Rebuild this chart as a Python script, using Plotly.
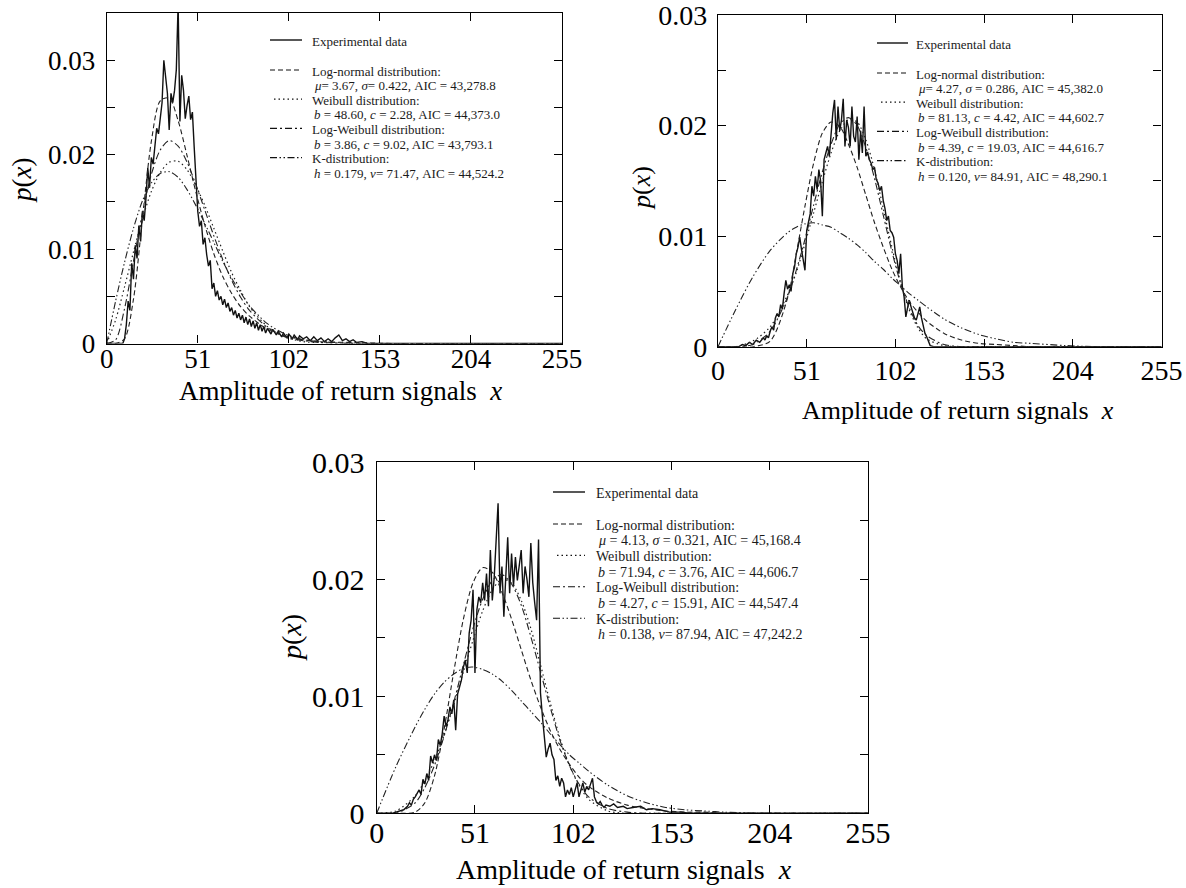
import plotly.graph_objects as go

W, H = 1186, 888
FONT = "Liberation Serif, Times New Roman, serif"

# ---------------- Panel 1 (top-left) ----------------
exp1_x = [0, 9, 10, 11, 12, 13, 14, 15, 16, 17, 18, 19, 20, 21, 22, 23, 24, 25, 26, 27, 28, 29, 30,
          31, 32, 33, 34, 35, 36, 37, 38, 39, 40, 41, 42, 43, 44, 45, 46, 47, 48, 49, 50, 51, 52,
          53, 54, 55, 56, 57, 58, 59, 60, 61, 62, 63, 64, 65, 66, 67, 68, 69, 70, 71, 72, 73, 74,
          75, 76, 77, 78, 79, 80, 81, 82, 83, 84, 85, 86, 87, 88, 89, 90, 92, 93, 95, 96, 98, 99,
          101, 102, 104, 105, 107, 108, 110, 112, 114, 116, 118, 120, 122, 124, 126, 128, 130,
          132, 134, 136, 138, 140, 143, 146, 255]
exp1_y = [0, 0, 0.0005, 0.0020, 0.0045, 0.0035, 0.0085, 0.0068, 0.0104, 0.0090, 0.0125, 0.0108,
          0.0140, 0.0130, 0.0154, 0.0186, 0.0165, 0.0197, 0.0190, 0.0211, 0.0228, 0.0222, 0.0240,
          0.0255, 0.0300, 0.0280, 0.0265, 0.0226, 0.0265, 0.0255, 0.0268, 0.0290, 0.0360, 0.0235,
          0.0284, 0.0268, 0.0238, 0.0252, 0.0262, 0.0237, 0.0245, 0.0208, 0.0170, 0.0140, 0.0124,
          0.0130, 0.0105, 0.0112, 0.0094, 0.0082, 0.0088, 0.0058, 0.0064, 0.0050, 0.0056, 0.0046,
          0.0050, 0.0041, 0.0047, 0.0038, 0.0043, 0.0034, 0.0038, 0.0030, 0.0035, 0.0027, 0.0032,
          0.0025, 0.0030, 0.0022, 0.0028, 0.0020, 0.0026, 0.0018, 0.0024, 0.0016, 0.0022, 0.0014,
          0.0020, 0.0013, 0.0018, 0.0011, 0.0016, 0.0010, 0.0015, 0.0009, 0.0013, 0.0007, 0.0011,
          0.0006, 0.0010, 0.0005, 0.0009, 0.0004, 0.0008, 0.0005, 0.0007, 0.0003, 0.0007, 0.0003,
          0.0006, 0.0002, 0.0005, 0.0002, 0.0006, 0.0009, 0.0003, 0.0005, 0.0002, 0.0004, 0.0001,
          0.0002, 0.0, 0.0]
fit1_x = [0, 5, 10, 15, 20, 25, 30, 35, 40, 45, 50, 55, 60, 65, 70, 75, 80, 90, 100, 110, 120,
          140, 160, 200, 255]
lognorm1 = [0, 0.0000, 0.0005, 0.0047, 0.0132, 0.0214, 0.0257, 0.0260, 0.0236, 0.0199, 0.0160,
            0.0125, 0.0095, 0.0071, 0.0053, 0.0039, 0.0029, 0.0015, 0.0008, 0.0004, 0.0002,
            0.0001, 0.0000, 0, 0]
weibull1 = [0, 0.0025, 0.0060, 0.0097, 0.0132, 0.0161, 0.0181, 0.0192, 0.0193, 0.0184, 0.0167,
            0.0146, 0.0122, 0.0098, 0.0075, 0.0056, 0.0039, 0.0018, 0.0007, 0.0002, 0.0001,
            0, 0, 0, 0]
logweib1 = [0, 0.0004, 0.0037, 0.0087, 0.0138, 0.0179, 0.0205, 0.0215, 0.0209, 0.0192, 0.0168,
            0.0141, 0.0114, 0.0089, 0.0067, 0.0049, 0.0035, 0.0017, 0.0007, 0.0003, 0.0001,
            0, 0, 0, 0]
kdist1 = [0, 0.0045, 0.0086, 0.0122, 0.0151, 0.0170, 0.0180, 0.0182, 0.0176, 0.0163, 0.0146,
          0.0127, 0.0107, 0.0087, 0.0069, 0.0054, 0.0040, 0.0021, 0.0010, 0.0004, 0.0002,
          0.0000, 0, 0, 0]
params1 = ["<i>μ</i>= 3.67, <i>σ</i>= 0.422, AIC = 43,278.8",
           "<i>b</i> = 48.60, <i>c</i> = 2.28, AIC = 44,373.0",
           "<i>b</i> = 3.86, <i>c</i> = 9.02, AIC = 43,793.1",
           "<i>h</i> = 0.179, <i>ν</i>= 71.47, AIC = 44,524.2"]

# ---------------- Panel 2 (top-right) ----------------
exp2_x = [0, 12, 14, 16, 18, 20, 22, 24, 26, 27, 28, 29, 30, 31, 32, 33, 34, 35, 36, 37, 38, 39,
          40, 41, 42, 43, 44, 45, 46, 47, 48, 49, 50, 51, 52, 53, 54, 55, 56, 57, 58, 59, 60, 61,
          62, 63, 64, 65, 66, 67, 68, 69, 70, 71, 72, 73, 74, 75, 76, 77, 78, 79, 80, 81, 82, 83,
          84, 85, 86, 87, 88, 89, 90, 91, 92, 93, 94, 95, 96, 97, 98, 99, 100, 101, 102, 103, 104,
          105, 106, 107, 108, 109, 110, 111, 112, 113, 114, 115, 116, 117, 118, 119, 120, 121, 122,
          124, 255]
exp2_y = [0, 0, 0.0002, 0.0001, 0.0004, 0.0002, 0.0006, 0.0004, 0.0008, 0.0006, 0.0010, 0.0008,
          0.0014, 0.0018, 0.0015, 0.0026, 0.0030, 0.0027, 0.0038, 0.0034, 0.0048, 0.0060, 0.0052,
          0.0056, 0.0050, 0.0066, 0.0072, 0.0084, 0.0090, 0.0099, 0.0088, 0.0078, 0.0069, 0.0105,
          0.0112, 0.0120, 0.0145, 0.0136, 0.0154, 0.0142, 0.0160, 0.0150, 0.0118, 0.0169, 0.0175,
          0.0181, 0.0172, 0.0193, 0.0211, 0.0223, 0.0187, 0.0217, 0.0195, 0.0205, 0.0224, 0.0181,
          0.0205, 0.0198, 0.0181, 0.0217, 0.0190, 0.0185, 0.0208, 0.0169, 0.0195, 0.0175, 0.0217,
          0.0172, 0.0176, 0.0169, 0.0166, 0.0160, 0.0162, 0.0151, 0.0148, 0.0141, 0.0145, 0.0132,
          0.0125, 0.0114, 0.0118, 0.0105, 0.0103, 0.0099, 0.0084, 0.0078, 0.0066, 0.0084, 0.0054,
          0.0045, 0.0027, 0.0035, 0.0042, 0.0036, 0.0030, 0.0026, 0.0024, 0.0030, 0.0036, 0.0026,
          0.0018, 0.0012, 0.0009, 0.0004, 0.0001, 0.0, 0.0]
fit2_x = [0, 10, 20, 30, 40, 45, 50, 55, 60, 65, 70, 75, 80, 85, 90, 95, 100, 105, 110, 115, 120,
          130, 140, 150, 160, 170, 180, 200, 220, 255]
lognorm2 = [0, 0, 0.0000, 0.0005, 0.0044, 0.0084, 0.0127, 0.0166, 0.0193, 0.0203, 0.0199, 0.0183,
            0.0162, 0.0137, 0.0112, 0.0090, 0.0070, 0.0054, 0.0041, 0.0031, 0.0023, 0.0012,
            0.0006, 0.0003, 0.0002, 0.0001, 0.0000, 0, 0, 0]
weibull2 = [0, 0.0000, 0.0005, 0.0018, 0.0047, 0.0067, 0.0093, 0.0121, 0.0149, 0.0175, 0.0195,
            0.0205, 0.0203, 0.0187, 0.0160, 0.0125, 0.0090, 0.0058, 0.0033, 0.0017, 0.0007,
            0.0001, 0, 0, 0, 0, 0, 0, 0, 0]
logweib2 = [0, 0, 0.0002, 0.0014, 0.0045, 0.0069, 0.0097, 0.0128, 0.0158, 0.0183, 0.0201, 0.0207,
            0.0200, 0.0180, 0.0152, 0.0119, 0.0086, 0.0057, 0.0035, 0.0019, 0.0010, 0.0002,
            0.0000, 0, 0, 0, 0, 0, 0, 0]
kdist2 = [0, 0.0033, 0.0063, 0.0087, 0.0103, 0.0108, 0.0111, 0.0112, 0.0110, 0.0108, 0.0103,
          0.0098, 0.0092, 0.0085, 0.0077, 0.0070, 0.0062, 0.0055, 0.0048, 0.0042, 0.0036, 0.0025,
          0.0017, 0.0011, 0.0007, 0.0004, 0.0003, 0.0001, 0.0000, 0]
params2 = ["<i>μ</i>= 4.27, <i>σ</i> = 0.286, AIC = 45,382.0",
           "<i>b</i> = 81.13, <i>c</i> = 4.42, AIC = 44,602.7",
           "<i>b</i> = 4.39, <i>c</i> = 19.03, AIC = 44,616.7",
           "<i>h</i> = 0.120, <i>ν</i>= 84.91, AIC = 48,290.1"]

# ---------------- Panel 3 (bottom) ----------------
exp3_x = [0, 8, 10, 12, 14, 16, 17, 18, 19, 20, 21, 22, 23, 24, 25, 26, 27, 28, 29, 30, 31, 32, 33,
          34, 35, 36, 37, 38, 39, 40, 41, 42, 43, 44, 45, 46, 47, 48, 49, 50, 51, 52, 53, 54, 55,
          56, 57, 58, 59, 60, 61, 62, 63, 64, 65, 66, 67, 68, 69, 70, 71, 72, 73, 74, 75, 76, 77,
          78, 79, 80, 81, 82, 83, 84, 85, 86, 87, 88, 89, 90, 91, 92, 93, 94, 95, 96, 97, 98, 99,
          100, 101, 102, 103, 104, 105, 106, 107, 108, 109, 110, 111, 112, 113, 114, 115, 116, 117,
          118, 119, 121, 123, 125, 128, 130, 133, 137, 140, 143, 147, 152, 158, 162, 255]
exp3_y = [0, 0, 0.0001, 0.0002, 0.0003, 0.0006, 0.0009, 0.0007, 0.0012, 0.0014, 0.0017, 0.0020,
          0.0016, 0.0029, 0.0025, 0.0034, 0.0028, 0.0049, 0.0043, 0.0050, 0.0045, 0.0063, 0.0058,
          0.0068, 0.0083, 0.0074, 0.0080, 0.0091, 0.0085, 0.0097, 0.0071, 0.0102, 0.0108, 0.0114,
          0.0125, 0.0131, 0.0120, 0.0154, 0.0165, 0.0191, 0.0120, 0.0174, 0.0185, 0.0180, 0.0197,
          0.0182, 0.0205, 0.0177, 0.0225, 0.0182, 0.0202, 0.0231, 0.0265, 0.0188, 0.0211, 0.0168,
          0.0200, 0.0236, 0.0188, 0.0222, 0.0194, 0.0219, 0.0199, 0.0210, 0.0225, 0.0188, 0.0211,
          0.0200, 0.0185, 0.0231, 0.0197, 0.0180, 0.0165, 0.0234, 0.0103, 0.0083, 0.0066, 0.0048,
          0.0055, 0.0060, 0.0050, 0.0046, 0.0028, 0.0032, 0.0023, 0.0030, 0.0026, 0.0014, 0.0020,
          0.0016, 0.0022, 0.0014, 0.0020, 0.0026, 0.0014, 0.0020, 0.0026, 0.0018, 0.0023, 0.0020,
          0.0025, 0.0030, 0.0014, 0.0010, 0.0008, 0.0010, 0.0007, 0.0005, 0.0007, 0.0006, 0.0008,
          0.0005, 0.0006, 0.0004, 0.0005, 0.0006, 0.0003, 0.0004, 0.0003, 0.0001, 0.0001, 0.0, 0.0]
fit3_x = [0, 10, 20, 25, 30, 35, 40, 45, 50, 55, 60, 65, 70, 75, 80, 85, 90, 95, 100, 105, 110,
          120, 130, 140, 150, 160, 170, 180, 200, 255]
lognorm3 = [0, 0.0000, 0.0001, 0.0009, 0.0032, 0.0072, 0.0121, 0.0166, 0.0197, 0.0210, 0.0206,
            0.0189, 0.0166, 0.0140, 0.0114, 0.0091, 0.0071, 0.0055, 0.0042, 0.0031, 0.0023,
            0.0013, 0.0007, 0.0004, 0.0002, 0.0001, 0.0001, 0.0000, 0, 0]
weibull3 = [0, 0.0002, 0.0015, 0.0028, 0.0045, 0.0067, 0.0093, 0.0121, 0.0148, 0.0173, 0.0191,
            0.0200, 0.0197, 0.0182, 0.0158, 0.0127, 0.0095, 0.0065, 0.0041, 0.0024, 0.0012,
            0.0002, 0.0000, 0, 0, 0, 0, 0, 0, 0]
logweib3 = [0, 0.0000, 0.0009, 0.0022, 0.0041, 0.0066, 0.0095, 0.0127, 0.0158, 0.0183, 0.0199,
            0.0204, 0.0196, 0.0178, 0.0151, 0.0121, 0.0091, 0.0063, 0.0041, 0.0025, 0.0014,
            0.0004, 0.0001, 0, 0, 0, 0, 0, 0, 0]
kdist3 = [0, 0.0040, 0.0074, 0.0089, 0.0102, 0.0112, 0.0119, 0.0124, 0.0125, 0.0123, 0.0119,
          0.0113, 0.0105, 0.0096, 0.0087, 0.0078, 0.0068, 0.0059, 0.0050, 0.0043, 0.0036,
          0.0024, 0.0015, 0.0009, 0.0005, 0.0003, 0.0002, 0.0001, 0.0000, 0]
params3 = ["<i>μ</i> = 4.13, <i>σ</i> = 0.321, AIC = 45,168.4",
           "<i>b</i> = 71.94, <i>c</i> = 3.76, AIC = 44,606.7",
           "<i>b</i> = 4.27, <i>c</i> = 15.91, AIC = 44,547.4",
           "<i>h</i> = 0.138, <i>ν</i>= 87.94, AIC = 47,242.2"]

# ---------------- shared labels ----------------
x_ticks = [0, 51, 102, 153, 204, 255]
series_names = ["Experimental data", "Log-normal distribution:", "Weibull distribution:",
                "Log-Weibull distribution:", "K-distribution:"]
x_title = "Amplitude of return signals  <i>x</i>"
y_title = "<i>p</i>(<i>x</i>)"

# ---------------- styles ----------------
DASHES = ["solid", "5px,3px", "1.5px,3px", "7px,3px,2px,3px", "7px,2.5px,1.5px,2.5px,1.5px,2.5px"]
WIDTHS = [1.4, 1.1, 1.2, 1.1, 1.1]
COL = "#111111"


def X(px):
    return px / W


def Y(py):
    return 1 - py / H


panels = [
    dict(exp=(exp1_x, exp1_y), fx=fit1_x, fits=[lognorm1, weibull1, logweib1, kdist1],
         params=params1, xdom=(106.7, 562.0), ydom=(13.0, 343.5), ymax=0.035,
         tickfs=27, titlefs=27, legfs=13, pitch=14.6, gap=30, sample=(270, 302), textx=311,
         leg_y=41, xstand=-9, ystand=5, xtitle=(340, 391), ytitle=(22, 181)),
    dict(exp=(exp2_x, exp2_y), fx=fit2_x, fits=[lognorm2, weibull2, logweib2, kdist2],
         params=params2, xdom=(718.0, 1161.5), ydom=(14.7, 346.7), ymax=0.03,
         tickfs=28, titlefs=26, legfs=13, pitch=14.6, gap=30, sample=(877, 908), textx=915,
         leg_y=44, xstand=-1, ystand=4, xtitle=(958, 410), ytitle=(641, 188)),
    dict(exp=(exp3_x, exp3_y), fx=fit3_x, fits=[lognorm3, weibull3, logweib3, kdist3],
         params=params3, xdom=(376.7, 868.0), ydom=(462.3, 813.3), ymax=0.03,
         tickfs=30, titlefs=28, legfs=14, pitch=15.7, gap=32, sample=(553, 585), textx=595,
         leg_y=493, xstand=-7, ystand=5, xtitle=(624, 869), ytitle=(291, 638)),
]

fig = go.Figure()
annotations = []
shapes = []
layout_axes = {}

for i, p in enumerate(panels):
    n = "" if i == 0 else str(i + 1)
    xa, ya = "x" + n, "y" + n
    fig.add_trace(go.Scatter(x=p["exp"][0], y=p["exp"][1], xaxis=xa, yaxis=ya, mode="lines",
                             name=series_names[0], showlegend=False,
                             line=dict(color=COL, width=WIDTHS[0], dash=DASHES[0])))
    for j, fy in enumerate(p["fits"]):
        fig.add_trace(go.Scatter(x=p["fx"], y=fy, xaxis=xa, yaxis=ya, mode="lines",
                                 name=series_names[j + 1].rstrip(":"), showlegend=False,
                                 line=dict(color="#222222", width=WIDTHS[j + 1], dash=DASHES[j + 1],
                                           shape="spline", smoothing=0.8)))
    ymax = p["ymax"]
    yt = [k * 0.005 for k in range(int(round(ymax / 0.005)) + 1)]
    ytt = [("0" if v == 0 else f"{v:.2f}") if k % 2 == 0 else "" for k, v in enumerate(yt)]
    axfont = dict(family=FONT, size=p["tickfs"], color="black")
    common = dict(ticks="inside", ticklen=8, tickwidth=1, tickcolor="black", showline=True,
                  linecolor="black", linewidth=1.2, mirror="ticks", showgrid=False,
                  zeroline=False, tickfont=axfont, automargin=False, ticklabeloverflow="allow")
    layout_axes["xaxis" + n] = dict(domain=[X(p["xdom"][0]), X(p["xdom"][1])], anchor=ya,
                                    range=[0, 255], tickvals=x_ticks,
                                    ticktext=[str(t) for t in x_ticks],
                                    ticklabelstandoff=p["xstand"], **common)
    layout_axes["yaxis" + n] = dict(domain=[Y(p["ydom"][1]), Y(p["ydom"][0])], anchor=xa,
                                    range=[0, ymax], tickvals=yt, ticktext=ytt,
                                    ticklabelstandoff=p["ystand"], **common)
    # axis titles
    tfont = dict(family=FONT, size=p["titlefs"], color="black")
    annotations.append(dict(x=X(p["xtitle"][0]), y=Y(p["xtitle"][1]), xref="paper", yref="paper",
                            text=x_title, showarrow=False, font=tfont,
                            xanchor="center", yanchor="middle", borderpad=0))
    annotations.append(dict(x=X(p["ytitle"][0]), y=Y(p["ytitle"][1]), xref="paper", yref="paper",
                            text=y_title, showarrow=False, font=tfont, textangle=-90,
                            xanchor="center", yanchor="middle"))
    # legend block (key lines + text rows)
    lfont = dict(family=FONT, size=p["legfs"], color="#1a1a1a")
    rows = [series_names[0]]
    sample_rows = [0]
    for j in range(4):
        sample_rows.append(len(rows))
        rows.append(series_names[j + 1])
        rows.append(p["params"][j])
    row_y = [p["leg_y"]] + [p["leg_y"] + p["gap"] + k * p["pitch"] for k in range(len(rows) - 1)]
    for r, txt in enumerate(rows):
        indent = 2 if (r >= 2 and r % 2 == 0) else 0
        annotations.append(dict(x=X(p["textx"] + indent), y=Y(row_y[r]),
                                xref="paper", yref="paper", text=txt, showarrow=False,
                                font=lfont, xanchor="left", yanchor="middle", borderpad=0))
    for j, r in enumerate(sample_rows):
        yy = Y(row_y[r] - 1)
        x0 = p["sample"][0] + (4 if j == 2 else 0)
        shapes.append(dict(type="line", xref="paper", yref="paper", x0=X(x0),
                           x1=X(p["sample"][1]), y0=yy, y1=yy,
                           line=dict(color=COL, width=WIDTHS[j], dash=DASHES[j])))

fig.update_layout(width=W, height=H, margin=dict(l=0, r=0, t=0, b=0, autoexpand=False),
                  paper_bgcolor="white", plot_bgcolor="white", showlegend=False,
                  annotations=annotations, shapes=shapes, **layout_axes)

fig.write_html("out.html")
